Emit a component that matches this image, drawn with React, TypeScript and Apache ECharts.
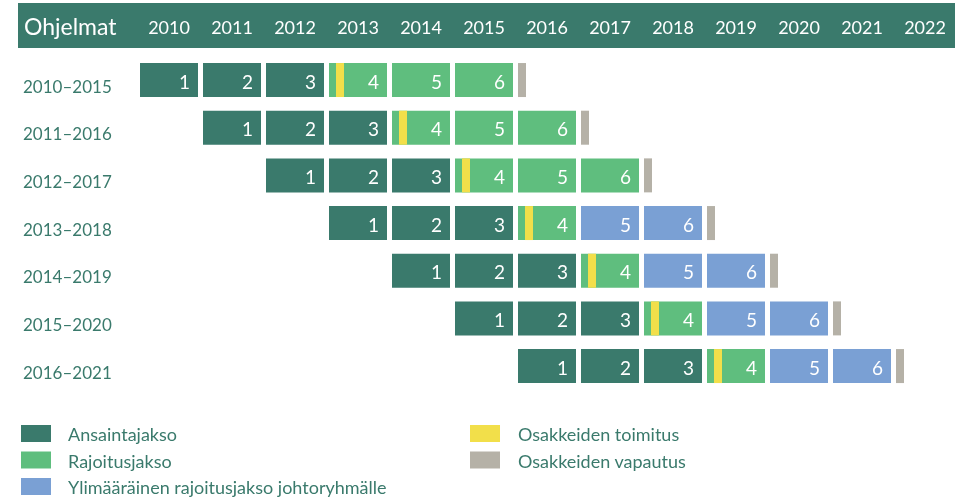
import React, { useEffect, useRef } from "react";
import * as echarts from "echarts";

const years = ["2010", "2011", "2012", "2013", "2014", "2015", "2016", "2017", "2018", "2019", "2020", "2021", "2022"];
const programs = ["2010–2015", "2011–2016", "2012–2017", "2013–2018", "2014–2019", "2015–2020", "2016–2021"];
const programStartCol = [0, 1, 2, 3, 4, 5, 6];
const programPhases = [
  ["earning", "earning", "earning", "delivery", "restriction", "restriction", "release"],
  ["earning", "earning", "earning", "delivery", "restriction", "restriction", "release"],
  ["earning", "earning", "earning", "delivery", "restriction", "restriction", "release"],
  ["earning", "earning", "earning", "delivery", "extra", "extra", "release"],
  ["earning", "earning", "earning", "delivery", "extra", "extra", "release"],
  ["earning", "earning", "earning", "delivery", "extra", "extra", "release"],
  ["earning", "earning", "earning", "delivery", "extra", "extra", "release"],
];
const phaseLabels = ["1", "2", "3", "4", "5", "6", ""];

const legendLeft = ["Ansaintajakso", "Rajoitusjakso", "Ylimääräinen rajoitusjakso johtoryhmälle"];
const legendRight = ["Osakkeiden toimitus", "Osakkeiden vapautus"];

const C = {
  dark: "#3a7a6c",
  green: "#5fbe7e",
  blue: "#7aa0d4",
  yellow: "#f2df4a",
  grey: "#b5b1a7",
};
const FONT = "Lato, 'Open Sans', sans-serif";

type Item = { col: number; row: number; kind: string; label: string };

export default function App() {
  const ref = useRef<HTMLDivElement>(null);
  useEffect(() => {
    if (!ref.current) return;
    const chart = echarts.init(ref.current, null, { renderer: "svg" });

    const items: Item[] = [];
    programs.forEach((_, p) => {
      programPhases[p].forEach((kind, k) => {
        items.push({ col: programStartCol[p] + k, row: p, kind, label: phaseLabels[k] });
      });
    });

    const BAR_W = 58;
    const BAR_H = 34;

    const renderItem = (params: any, api: any) => {
      const it = items[params.dataIndex];
      const c = api.coord([api.value(0), api.value(1)]);
      const size = api.size([1, 1]);
      const bw = size[0];
      const x0 = c[0] - bw / 2 + (bw - BAR_W) / 2;
      const y0 = c[1] - BAR_H / 2;
      const children: any[] = [];
      if (it.kind === "release") {
        children.push({ type: "rect", shape: { x: x0, y: y0, width: 8, height: BAR_H }, style: { fill: C.grey } });
      } else {
        const fill = it.kind === "earning" ? C.dark : it.kind === "extra" ? C.blue : C.green;
        children.push({ type: "rect", shape: { x: x0, y: y0, width: BAR_W, height: BAR_H }, style: { fill } });
        if (it.kind === "delivery") {
          children.push({ type: "rect", shape: { x: x0 + 7, y: y0, width: 8, height: BAR_H }, style: { fill: C.yellow } });
        }
        children.push({
          type: "text",
          style: {
            x: x0 + BAR_W - 8,
            y: c[1] + 1,
            text: it.label,
            fill: "#ffffff",
            font: `19px ${FONT}`,
            align: "right",
            verticalAlign: "middle",
          },
        });
      }
      return { type: "group", children };
    };

    const legendGraphics: any[] = [];
    const legendColorsLeft = [C.dark, C.green, C.blue];
    const legendColorsRight = [C.yellow, C.grey];
    legendLeft.forEach((name, i) => {
      const y = 425 + i * 26.5;
      legendGraphics.push({ type: "rect", shape: { x: 21, y, width: 30, height: 17 }, style: { fill: legendColorsLeft[i] } });
      legendGraphics.push({
        type: "text",
        style: { x: 68, y: y + 9, text: name, fill: C.dark, font: `18px ${FONT}`, verticalAlign: "middle" },
      });
    });
    legendRight.forEach((name, i) => {
      const y = 425 + i * 26.5;
      legendGraphics.push({ type: "rect", shape: { x: 470, y, width: 30, height: 17 }, style: { fill: legendColorsRight[i] } });
      legendGraphics.push({
        type: "text",
        style: { x: 518, y: y + 9, text: name, fill: C.dark, font: `18px ${FONT}`, verticalAlign: "middle" },
      });
    });

    chart.setOption({
      animation: false,
      grid: { left: 137.5, right: 1.5, top: 56.2, height: 333.7, containLabel: false },
      xAxis: {
        type: "category",
        data: years,
        position: "top",
        boundaryGap: true,
        axisLine: { show: false },
        axisTick: { show: false },
        splitLine: { show: false },
        axisLabel: {
          color: "#ffffff",
          fontSize: 18,
          fontFamily: FONT,
          margin: 29,
          verticalAlign: "middle",
          interval: 0,
        },
        z: 5,
      },
      yAxis: {
        type: "category",
        data: programs,
        inverse: true,
        axisLine: { show: false },
        axisTick: { show: false },
        splitLine: { show: false },
        axisLabel: {
          color: C.dark,
          fontSize: 17,
          fontFamily: FONT,
          align: "left",
          margin: 114.5,
          verticalAlign: "top",
          lineHeight: 12,
        },
      },
      graphic: [
        { type: "rect", z: -10, shape: { x: 18, y: 3, width: 937, height: 45 }, style: { fill: C.dark } },
        {
          type: "text",
          z: 10,
          style: { x: 24, y: 26, text: "Ohjelmat", fill: "#ffffff", font: `23px ${FONT}`, verticalAlign: "middle" },
        },
        ...legendGraphics,
      ],
      series: [
        {
          type: "custom",
          renderItem,
          data: items.map((it) => [it.col, it.row]),
          encode: { x: 0, y: 1 },
        },
      ],
    });
    return () => chart.dispose();
  }, []);
  return <div ref={ref} style={{ position: "fixed", left: 0, top: 0, width: 958, height: 498 }} />;
}
